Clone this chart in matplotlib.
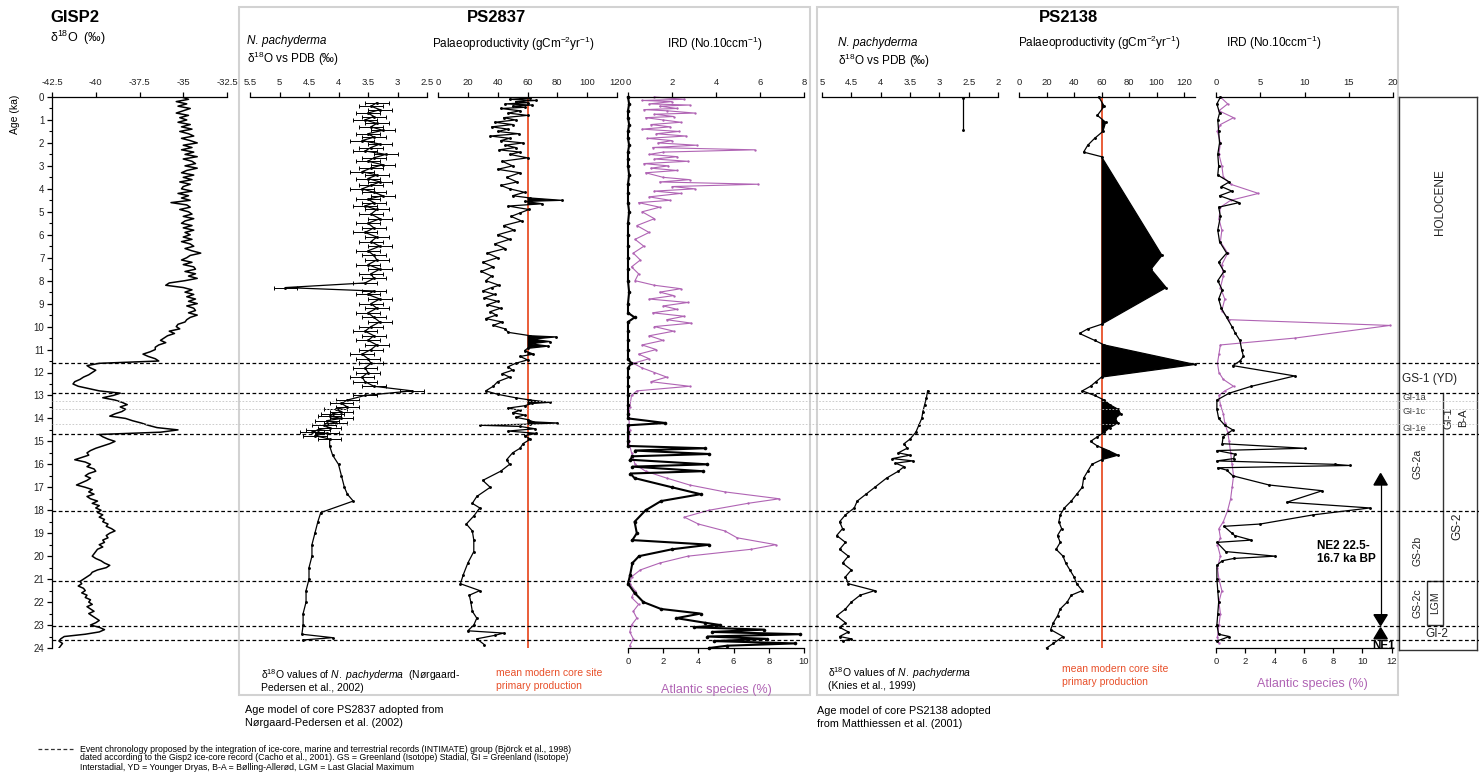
import matplotlib
matplotlib.use("Agg")
import matplotlib.pyplot as plt
from matplotlib.patches import Rectangle, Polygon
from matplotlib.lines import Line2D

plt.rcParams['font.family'] = ['Liberation Sans', 'DejaVu Sans']
plt.rcParams['mathtext.fontset'] = 'custom'
plt.rcParams['mathtext.rm'] = 'Liberation Sans'
plt.rcParams['mathtext.it'] = 'Liberation Sans:italic'
plt.rcParams['mathtext.bf'] = 'Liberation Sans:bold'
plt.rcParams['axes.unicode_minus'] = False

# ---------------------------------------------------------------- data
gisp2_age = [
    0.0, 0.1, 0.2, 0.3, 0.4, 0.5, 0.6, 0.7, 0.8, 0.9,
    1.0, 1.1, 1.2, 1.3, 1.4, 1.5, 1.6, 1.7, 1.8, 1.9,
    2.0, 2.1, 2.2, 2.3, 2.4, 2.5, 2.6, 2.7, 2.8, 2.9,
    3.0, 3.1, 3.2, 3.3, 3.4, 3.5, 3.6, 3.7, 3.8, 3.9,
    4.0, 4.1, 4.2, 4.3, 4.4, 4.5, 4.6, 4.7, 4.8, 4.9,
    5.0, 5.1, 5.2, 5.3, 5.4, 5.5, 5.6, 5.7, 5.8, 5.9,
    6.0, 6.1, 6.2, 6.3, 6.4, 6.5, 6.6, 6.7, 6.8, 6.9,
    7.0, 7.1, 7.2, 7.3, 7.4, 7.5, 7.6, 7.7, 7.8, 7.9,
    8.0, 8.1, 8.2, 8.3, 8.4, 8.5, 8.6, 8.7, 8.8, 8.9,
    9.0, 9.1, 9.2, 9.3, 9.4, 9.5, 9.6, 9.7, 9.8, 9.9,
    10.0, 10.1, 10.2, 10.3, 10.4, 10.5, 10.6, 10.7, 10.8, 10.9,
    11.0, 11.1, 11.2, 11.3, 11.4, 11.5, 11.6, 11.7, 11.8, 11.9,
    12.0, 12.1, 12.2, 12.3, 12.4, 12.5, 12.6, 12.7, 12.8, 12.9,
    13.0, 13.1, 13.2, 13.3, 13.4, 13.5, 13.6, 13.7, 13.8, 13.9,
    14.0, 14.1, 14.2, 14.3, 14.4, 14.5, 14.6, 14.7, 14.8, 14.9,
    15.0, 15.1, 15.2, 15.3, 15.4, 15.5, 15.6, 15.7, 15.8, 15.9,
    16.0, 16.1, 16.2, 16.3, 16.4, 16.5, 16.6, 16.7, 16.8, 16.9,
    17.0, 17.1, 17.2, 17.3, 17.4, 17.5, 17.6, 17.7, 17.8, 17.9,
    18.0, 18.1, 18.2, 18.3, 18.4, 18.5, 18.6, 18.7, 18.8, 18.9,
    19.0, 19.1, 19.2, 19.3, 19.4, 19.5, 19.6, 19.7, 19.8, 19.9,
    20.0, 20.1, 20.2, 20.3, 20.4, 20.5, 20.6, 20.7, 20.8, 20.9,
    21.0, 21.1, 21.2, 21.3, 21.4, 21.5, 21.6, 21.7, 21.8, 21.9,
    22.0, 22.1, 22.2, 22.3, 22.4, 22.5, 22.6, 22.7, 22.8, 22.9,
    23.0, 23.1, 23.2, 23.3, 23.4, 23.5, 23.6, 23.7, 23.8, 23.9,
    24.0]
gisp2_d18o = [
    -35.1, -34.7, -35.4, -34.8, -35.3, -34.6, -35.0, -35.4, -34.7, -35.2,
    -34.8, -35.3, -34.6, -35.1, -34.5, -35.2, -34.7, -34.4, -35.1, -34.6,
    -34.2, -35.0, -34.5, -35.1, -34.4, -34.9, -34.2, -35.0, -34.5, -34.3,
    -34.9, -34.2, -34.8, -35.1, -34.4, -35.0, -34.5, -35.2, -34.6, -35.0,
    -35.1, -34.5, -35.3, -34.7, -35.1, -34.6, -35.7, -34.8, -34.6, -35.2,
    -34.7, -34.5, -35.0, -34.4, -34.9, -35.1, -34.5, -35.0, -34.4, -34.9,
    -34.6, -35.0, -34.5, -35.1, -34.6, -34.4, -34.9, -34.5, -34.0, -34.6,
    -34.8, -35.1, -34.5, -35.0, -34.4, -34.3, -34.9, -34.3, -34.7, -34.2,
    -34.9, -35.8, -36.0, -35.0, -34.5, -34.9, -34.4, -34.8, -34.3, -34.7,
    -34.2, -34.8, -34.4, -34.3, -34.7, -34.2, -34.6, -34.8, -34.9, -35.3,
    -35.4, -35.2, -35.8, -35.5, -35.9, -36.1, -36.3, -36.0, -36.4, -36.6,
    -36.6, -36.9, -37.3, -37.0, -36.6, -36.4, -39.8, -40.5, -40.3, -40.0,
    -40.2, -40.4, -40.7, -40.9, -41.2, -41.3, -41.0, -40.4, -39.8, -38.6,
    -39.0, -39.6, -38.9, -38.5, -38.2, -38.6, -38.3, -38.5, -38.9, -39.2,
    -38.3, -37.9, -37.4, -37.0, -36.5, -35.3, -36.3, -39.8, -39.6, -39.3,
    -38.9, -39.2, -39.6, -40.0, -40.3, -40.5, -40.4, -40.8, -41.2, -40.6,
    -40.3, -40.5, -40.1, -40.0, -40.4, -40.6, -40.3, -40.5, -40.8, -41.1,
    -40.6, -40.2, -40.4, -40.1, -40.5, -40.3, -39.9, -40.2, -39.8, -40.0,
    -39.7, -39.9, -39.6, -39.8, -39.5, -39.6, -39.3, -39.4, -39.1, -38.9,
    -39.2, -39.4, -39.3, -39.6, -39.5, -39.8, -39.6, -39.9, -40.0, -40.1,
    -40.2, -40.0, -39.7, -39.5, -39.2, -39.4, -39.9, -40.2, -40.3, -40.5,
    -40.7, -40.9, -40.8, -41.0, -40.7, -40.6, -40.8, -40.5, -40.6, -40.3,
    -40.4, -40.2, -40.5, -40.3, -40.1, -40.4, -40.2, -40.0, -39.8, -40.0,
    -40.3, -39.8, -39.5, -39.8, -40.6, -41.8, -42.0, -42.1, -41.9, -42.0,
    -42.1]

# PS2837 N. pachyderma d18O (points with analytical error bars, then glacial part)
ps2837_d18o_age = [
    0.25, 0.4, 0.55, 0.7, 0.85, 1.0, 1.15, 1.3, 1.45, 1.6,
    1.75, 1.9, 2.05, 2.2, 2.35, 2.5, 2.65, 2.8, 2.95, 3.1,
    3.25, 3.4, 3.55, 3.7, 3.85, 4.0, 4.15, 4.3, 4.45, 4.6,
    4.75, 4.9, 5.1, 5.3, 5.5, 5.7, 5.9, 6.1, 6.3, 6.5,
    6.7, 6.9, 7.1, 7.3, 7.5, 7.7, 7.9, 8.1, 8.3, 8.45,
    8.6, 8.8, 9.0, 9.2, 9.4, 9.6, 9.8, 10.0, 10.2, 10.4,
    10.6, 10.8, 11.0, 11.2, 11.4, 11.6, 11.8, 12.0, 12.2, 12.4,
    12.6, 12.8, 13.0, 13.2, 13.35, 13.5, 13.6, 13.7, 13.8, 13.9,
    14.0, 14.1, 14.2, 14.3, 14.4, 14.5, 14.6, 14.65, 14.75, 14.9]
ps2837_d18o = [
    3.35, 3.45, 3.30, 3.50, 3.40, 3.55, 3.35, 3.45, 3.25, 3.50,
    3.40, 3.60, 3.30, 3.45, 3.55, 3.20, 3.40, 3.50, 3.25, 3.45,
    3.60, 3.35, 3.50, 3.30, 3.45, 3.60, 3.40, 3.25, 3.50, 3.40,
    3.55, 3.35, 3.45, 3.30, 3.50, 3.40, 3.55, 3.35, 3.45, 3.30,
    3.50, 3.40, 3.35, 3.50, 3.30, 3.45, 3.40, 3.55, 4.90, 3.40,
    3.50, 3.30, 3.45, 3.35, 3.50, 3.40, 3.30, 3.45, 3.55, 3.40,
    3.50, 3.35, 3.45, 3.60, 3.50, 3.45, 3.55, 3.50, 3.60, 3.55,
    3.40, 2.75, 3.55, 3.85, 3.95, 3.85, 4.05, 3.95, 4.10, 4.15,
    3.95, 4.20, 4.05, 4.25, 4.15, 4.35, 4.45, 4.20, 4.40, 4.15]
ps2837_d18o_err = 0.2
ps2837_d18o_glacial_age = [15.2, 15.6, 16.0, 16.5, 17.0, 17.3, 17.6, 18.1, 18.5, 19.0,
                           19.5, 20.0, 20.5, 21.0, 21.5, 22.0, 22.5, 23.0, 23.4, 23.55, 23.65]
ps2837_d18o_glacial = [4.15, 4.10, 4.00, 3.95, 3.90, 3.85, 3.75, 4.30, 4.35, 4.40,
                       4.45, 4.45, 4.50, 4.50, 4.55, 4.55, 4.60, 4.60, 4.62, 4.10, 4.60]

# PS2837 palaeoproductivity (gC m-2 yr-1)
ps2837_prod_age = [
    0.0, 0.05, 0.1, 0.15, 0.2, 0.25, 0.3, 0.35, 0.4, 0.45,
    0.5, 0.6, 0.7, 0.8, 0.9, 1.0, 1.1, 1.2, 1.3, 1.4,
    1.5, 1.6, 1.7, 1.8, 1.9, 2.0, 2.1, 2.2, 2.3, 2.4,
    2.5, 2.65, 2.8, 3.0, 3.15, 3.3, 3.5, 3.7, 3.85, 4.0,
    4.15, 4.3, 4.4, 4.5, 4.55, 4.65, 4.75, 4.9, 5.05, 5.2,
    5.4, 5.6, 5.8, 6.0, 6.2, 6.4, 6.6, 6.8, 7.0, 7.2,
    7.4, 7.6, 7.8, 8.0, 8.2, 8.3, 8.45, 8.6, 8.75, 8.9,
    9.05, 9.2, 9.35, 9.5, 9.65, 9.8, 9.95, 10.1, 10.25, 10.4,
    10.45, 10.55, 10.65, 10.75, 10.85, 10.95, 11.05, 11.2, 11.3, 11.45,
    11.6, 11.75, 11.9, 12.05, 12.2, 12.4, 12.6, 12.8, 12.95, 13.1,
    13.2, 13.3, 13.35, 13.45, 13.55, 13.65, 13.75, 13.85, 13.95, 14.05,
    14.15, 14.2, 14.25, 14.3, 14.35, 14.45, 14.55, 14.65, 14.75, 14.9,
    15.1, 15.3, 15.5, 15.8, 16.0, 16.3, 16.7, 17.0, 17.4, 17.7,
    17.9, 18.25, 18.6, 18.9, 19.3, 19.8, 20.3, 20.8, 21.2, 21.5,
    21.7, 22.0, 22.4, 22.7, 23.0, 23.25, 23.35, 23.45, 23.6, 23.85]
ps2837_prod = [
    55, 62, 48, 66, 52, 60, 45, 63, 50, 58,
    42, 55, 47, 60, 44, 52, 38, 50, 36, 47,
    40, 54, 35, 48, 42, 57, 45, 52, 41, 55,
    48, 60, 43, 50, 40, 55, 46, 53, 42, 48,
    58, 50, 62, 83, 58, 70, 47, 61, 55, 49,
    56, 44, 51, 40, 48, 38, 45, 33, 40, 30,
    37, 29, 36, 32, 41, 36, 30, 38, 31, 40,
    33, 42, 35, 39, 32, 43, 37, 45, 47, 62,
    79, 63, 75, 62, 74, 60, 58, 64, 55, 60,
    52, 47, 50, 43, 48, 40, 37, 32, 40, 52,
    62, 75, 63, 58, 47, 55, 50, 58, 52, 60,
    64, 80, 62, 28, 55, 65, 47, 66, 58, 62,
    57, 55, 50, 46, 48, 42, 30, 35, 26, 23,
    28, 24, 19, 23, 24, 24, 20, 17, 15, 28,
    21, 22, 23, 26, 24, 20, 44, 38, 26, 31]

# PS2837 IRD (No. 10 ccm-1) and Atlantic species (%)
ps2837_ird_age = [
    0.0, 0.3, 0.6, 0.9, 1.2, 1.5, 1.8, 2.1, 2.4, 2.7,
    3.0, 3.4, 3.8, 4.2, 4.6, 5.0, 5.5, 6.0, 6.5, 7.0,
    7.5, 8.0, 8.5, 9.0, 9.4, 9.6, 9.8, 10.2, 10.6, 11.0,
    11.4, 11.6, 11.8, 12.2, 12.6, 13.0, 13.4, 13.8, 14.0, 14.2,
    14.3, 14.6, 15.0, 15.2, 15.3, 15.4, 15.55, 15.65, 15.8, 16.0,
    16.1, 16.3, 16.4, 16.6, 17.0, 17.3, 17.6, 18.0, 18.5, 19.0,
    19.3, 19.5, 19.7, 20.0, 20.3, 20.8, 21.2, 21.6, 22.0, 22.3,
    22.5, 22.7, 22.9, 23.0, 23.1, 23.2, 23.3, 23.4, 23.5, 23.6,
    23.7, 23.8, 23.9, 24.0]
ps2837_ird = [
    0, 0.05, 0, 0, 0.05, 0, 0, 0.05, 0, 0,
    0, 0.05, 0, 0, 0, 0.05, 0, 0, 0, 0,
    0, 0, 0.05, 0, 0, 0.3, 0, 0, 0, 0,
    0, 0.15, 0, 0, 0, 0, 0, 0, 0, 1.7,
    0, 0, 0, 0, 3.5, 0.3, 3.7, 0.2, 0.1, 3.6,
    0.2, 3.4, 0.1, 0.3, 2.0, 3.3, 1.5, 0.8, 0.3, 0.4,
    0.2, 3.7, 2.0, 0.5, 0.2, 0.1, 0, 0.3, 0.7, 1.5,
    3.3, 2.2, 3.5, 4.2, 3.0, 6.2, 3.8, 7.8, 3.6, 6.3,
    3.9, 7.6, 4.5, 3.7]
ps2837_atl_age = [
    0.0, 0.1, 0.15, 0.2, 0.3, 0.35, 0.4, 0.5, 0.55, 0.6,
    0.7, 0.75, 0.85, 0.9, 1.0, 1.1, 1.2, 1.3, 1.4, 1.5,
    1.6, 1.7, 1.8, 1.9, 2.0, 2.1, 2.2, 2.3, 2.4, 2.5,
    2.6, 2.7, 2.8, 2.9, 3.0, 3.1, 3.2, 3.3, 3.5, 3.6,
    3.7, 3.8, 3.9, 4.0, 4.1, 4.2, 4.35, 4.5, 4.6, 4.8,
    5.0, 5.3, 5.6, 5.9, 6.2, 6.5, 6.8, 7.1, 7.4, 7.7,
    8.0, 8.2, 8.35, 8.5, 8.65, 8.8, 8.95, 9.1, 9.25, 9.4,
    9.55, 9.7, 9.85, 10.0, 10.2, 10.4, 10.6, 10.8, 11.0, 11.2,
    11.4, 11.6, 11.8, 12.0, 12.2, 12.4, 12.6, 12.8, 13.0, 13.5,
    14.0, 14.5, 15.0, 15.5, 16.0, 16.3, 16.6, 16.9, 17.2, 17.5,
    17.7, 18.0, 18.3, 18.6, 18.9, 19.2, 19.5, 19.7, 20.0, 20.3,
    20.6, 20.9, 21.2, 21.5, 21.8, 22.1, 22.4, 22.7, 23.0, 23.3,
    23.6, 23.9]
ps2837_atl = [
    1.5, 3.2, 0.8, 2.5, 1.2, 3.5, 1.8, 2.8, 0.9, 2.2,
    3.8, 1.5, 2.6, 1.0, 2.0, 3.0, 1.3, 2.4, 0.8, 2.9,
    1.6, 3.3, 1.1, 2.5, 1.7, 3.9, 1.4, 7.2, 2.0, 1.2,
    2.8, 1.5, 3.4, 0.9, 2.3, 1.3, 2.8, 1.0, 2.0, 3.5,
    1.8, 7.4, 2.5, 3.8, 1.5, 3.0, 1.2, 2.4, 0.6, 1.8,
    0.8, 1.5, 0.5, 1.2, 0.4, 0.9, 0.3, 0.7, 0.2, 0.6,
    0.4, 1.5, 3.0, 1.8, 2.6, 1.2, 3.4, 2.0, 2.8, 1.4,
    3.2, 2.2, 3.6, 1.5, 2.6, 1.2, 2.0, 0.8, 1.6, 0.6,
    1.2, 0.3, 0.8, 1.5, 2.2, 1.3, 3.5, 0.5, 0.2, 0.1,
    0.05, 0.1, 0.05, 0.2, 0.4, 1.0, 2.2, 3.5, 5.5, 8.6,
    6.8, 4.6, 3.2, 4.0, 5.5, 6.2, 8.4, 7.0, 3.4, 1.8,
    0.7, 0.2, 0.1, 0.4, 0.2, 0.6, 0.3, 0.5, 0.2, 0.1,
    0.3, 0.1]

# PS2138 N. pachyderma d18O
ps2138_d18o_top_age = [0.05, 1.45]
ps2138_d18o_top = [2.6, 2.6]
ps2138_d18o_age = [
    12.8, 13.1, 13.4, 13.7, 14.0, 14.3, 14.6, 14.9, 15.1, 15.3,
    15.5, 15.6, 15.75, 15.85, 15.95, 16.1, 16.3, 16.6, 17.0, 17.3,
    17.6, 17.9, 18.2, 18.5, 18.8, 19.1, 19.4, 19.7, 20.0, 20.3,
    20.6, 20.9, 21.2, 21.5, 21.7, 22.0, 22.3, 22.6, 22.9, 23.1,
    23.3, 23.5, 23.6, 23.7]
ps2138_d18o = [
    3.20, 3.22, 3.25, 3.28, 3.30, 3.35, 3.40, 3.50, 3.60, 3.55,
    3.70, 3.50, 3.80, 3.45, 3.75, 3.60, 3.70, 3.90, 4.10, 4.25,
    4.40, 4.45, 4.60, 4.70, 4.65, 4.75, 4.60, 4.70, 4.55, 4.65,
    4.50, 4.60, 4.55, 4.10, 4.35, 4.50, 4.60, 4.75, 4.60, 4.70,
    4.55, 4.70, 4.50, 4.65]

# PS2138 palaeoproductivity
ps2138_prod_age = [
    0.0, 0.4, 0.8, 1.1, 1.5, 1.8, 2.1, 2.4, 2.6, 6.9,
    7.5, 8.3, 9.9, 10.1, 10.3, 10.6, 10.8, 11.65, 12.2, 12.4,
    12.6, 12.8, 13.0, 13.2, 13.4, 13.6, 13.8, 14.0, 14.2, 14.4,
    14.6, 14.8, 15.0, 15.2, 15.4, 15.6, 15.8, 16.0, 16.3, 16.6,
    17.0, 17.3, 17.6, 17.9, 18.2, 18.5, 18.8, 19.1, 19.4, 19.7,
    20.0, 20.3, 20.6, 20.9, 21.2, 21.5, 21.7, 22.0, 22.3, 22.6,
    22.9, 23.2, 23.5, 23.8, 24.0]
ps2138_prod = [
    58, 62, 57, 63, 61, 55, 50, 47, 60, 104,
    96, 107, 60, 50, 44, 55, 62, 128, 60, 56,
    52, 46, 55, 62, 66, 72, 74, 70, 72, 66,
    62, 57, 52, 57, 65, 72, 60, 53, 50, 47,
    46, 42, 38, 33, 30, 29, 31, 28, 30, 27,
    32, 34, 37, 40, 42, 46, 38, 35, 30, 28,
    25, 23, 32, 25, 20]

# PS2138 IRD and Atlantic species
ps2138_ird_age = [
    0.0, 0.3, 0.7, 1.0, 1.5, 2.0, 2.5, 3.0, 3.4, 3.7,
    3.9, 4.1, 4.3, 4.6, 4.8, 5.2, 5.8, 6.3, 6.8, 7.2,
    7.6, 8.0, 8.4, 8.8, 9.2, 9.6, 10.0, 10.3, 10.6, 11.0,
    11.3, 11.5, 11.7, 12.15, 12.6, 12.9, 13.2, 13.6, 14.0, 14.3,
    14.5, 14.8, 15.1, 15.3, 15.4, 15.55, 15.75, 15.85, 16.0, 16.05,
    16.15, 16.25, 16.5, 16.9, 17.15, 17.65, 17.9, 18.2, 18.6, 18.7,
    19.0, 19.1, 19.3, 19.4, 19.8, 20.0, 20.1, 20.2, 20.4, 21.0,
    21.5, 22.0, 22.5, 23.0, 23.4, 23.5, 23.7]
ps2138_ird = [
    0.5, 0.1, 0.4, 0.2, 0.3, 0.4, 0.2, 0.3, 0.2, 1.5,
    0.6, 1.8, 0.4, 2.6, 0.3, 0.5, 0.2, 0.4, 1.2, 0.3,
    0.9, 0.2, 0.7, 0.3, 0.6, 1.2, 1.8, 2.2, 2.7, 2.9,
    3.1, 2.7, 1.9, 8.9, 4.0, 1.5, 0.1, 0.1, 0.3, 1.0,
    1.9, 0.8, 0.7, 10.0, 0.1, 2.1, 2.0, 0.1, 13.4, 15.1,
    0.2, 1.2, 1.9, 6.0, 12.0, 8.0, 17.4, 11.0, 5.0, 0.9,
    1.8, 2.1, 4.0, 0.1, 1.1, 6.7, 2.0, 0.7, 0.1, 0.1,
    0.2, 0.3, 0.2, 0.1, 0.3, 1.5, 0.1]
ps2138_atl_age = [
    0.0, 0.3, 0.6, 0.9, 1.2, 1.5, 2.0, 2.5, 3.0, 3.5,
    3.8, 4.2, 4.5, 4.8, 5.3, 5.8, 6.3, 6.8, 7.3, 7.8,
    8.3, 8.8, 9.3, 9.7, 9.95, 10.5, 10.8, 11.2, 11.6, 12.0,
    12.3, 12.6, 12.8, 13.0, 13.4, 13.8, 14.2, 14.6, 15.0, 15.5,
    16.0, 16.5, 17.0, 17.5, 18.0, 18.5, 18.8, 19.2, 19.5, 20.0,
    20.5, 21.0, 21.5, 22.0, 22.5, 23.0, 23.5, 23.8]
ps2138_atl = [
    0.3, 0.8, 0.2, 1.2, 0.3, 0.1, 0.3, 0.2, 0.4, 0.5,
    1.0, 2.9, 1.0, 0.3, 0.2, 0.4, 0.3, 0.8, 0.4, 0.5,
    0.3, 0.6, 0.4, 0.9, 11.9, 5.4, 0.3, 0.2, 0.1, 0.2,
    0.5, 1.2, 0.6, 0.2, 0.3, 0.5, 0.6, 0.8, 0.9, 1.0,
    1.1, 1.2, 1.1, 1.0, 0.8, 0.5, 0.2, 0.3, 0.1, 0.3,
    0.1, 0.2, 0.4, 0.2, 0.3, 0.2, 0.1, 0.2]

modern_production = 60
event_ages = [11.6, 12.9, 14.7, 18.05, 21.1, 23.05, 23.65]
gi1_sub_ages = [13.25, 13.6, 14.25]

age_ticks = list(range(0, 25))
gisp2_ticks = [-42.5, -40, -37.5, -35, -32.5]
gisp2_labels = ['-42.5', '-40', '-37.5', '-35', '-32.5']
d18o_2837_ticks = [5.5, 5, 4.5, 4, 3.5, 3, 2.5]
d18o_2837_labels = ['5.5', '5', '4.5', '4', '3.5', '3', '2.5']
d18o_2138_ticks = [5, 4.5, 4, 3.5, 3, 2.5, 2]
d18o_2138_labels = ['5', '4.5', '4', '3.5', '3', '2.5', '2']
prod_ticks = [0, 20, 40, 60, 80, 100, 120]
ird_2837_ticks = [0, 2, 4, 6, 8]
atl_2837_ticks = [0, 2, 4, 6, 8, 10]
ird_2138_ticks = [0, 5, 10, 15, 20]
atl_2138_ticks = [0, 2, 4, 6, 8, 10, 12]

# ---------------------------------------------------------------- layout
W, H = 1479, 784
TOP, BOT = 97, 648
fig = plt.figure(figsize=(W / 100, H / 100), dpi=100)
fig.patch.set_facecolor('white')

PURPLE = '#b064b4'
RED = '#e8502a'
TICKC = '#222222'


def axes_px(x0, x1, y0=TOP, y1=BOT):
    ax = fig.add_axes([x0 / W, 1 - y1 / H, (x1 - x0) / W, (y1 - y0) / H])
    ax.patch.set_alpha(0)
    return ax


def top_scale(ax, lim, ticks, labels):
    ax.set_xlim(*lim)
    ax.set_ylim(24, 0)
    for s in ('left', 'right', 'bottom'):
        ax.spines[s].set_visible(False)
    ax.spines['top'].set_linewidth(0.9)
    ax.xaxis.tick_top()
    ax.set_xticks(ticks)
    ax.set_xticklabels(labels)
    ax.tick_params(axis='x', direction='out', length=3.5, width=0.9,
                   labelsize=6.8, pad=4, labelcolor=TICKC)
    ax.set_yticks([])


def bottom_scale(ax, lim, ticks):
    tw = ax.twiny()
    # twiny moves the parent's ticks to the bottom; put them back on top
    ax.tick_params(axis='x', top=True, labeltop=True, bottom=False, labelbottom=False)
    tw.set_xlim(*lim)
    tw.set_ylim(24, 0)
    tw.patch.set_alpha(0)
    for s in ('left', 'right', 'top'):
        tw.spines[s].set_visible(False)
    tw.spines['bottom'].set_visible(True)
    tw.spines['bottom'].set_linewidth(0.9)
    tw.xaxis.set_ticks_position('bottom')
    tw.xaxis.set_label_position('bottom')
    tw.tick_params(axis='x', top=False, labeltop=False, bottom=True, labelbottom=True)
    tw.set_xticks(ticks)
    tw.set_xticklabels([str(t) for t in ticks])
    tw.tick_params(axis='x', direction='out', length=3.5, width=0.9,
                   labelsize=6.8, pad=3, labelcolor=TICKC)
    return tw


def ftext(x, y, s, **kw):
    kw.setdefault('va', 'center')
    kw.setdefault('ha', 'left')
    fig.text(x / W, 1 - y / H, s, **kw)


# core boxes
for (x0, x1) in [(239, 810), (817, 1398)]:
    fig.add_artist(Rectangle((x0 / W, 1 - 695 / H), (x1 - x0) / W, (695 - 7) / H,
                             transform=fig.transFigure, fill=False,
                             ec='#d2d2d2', lw=1.5, zorder=0))

line_kw = dict(color='k', lw=0.9, marker='o', ms=2.1, mew=0)

# GISP2
ax0 = axes_px(52, 227)
top_scale(ax0, (-42.5, -32.5), gisp2_ticks, gisp2_labels)
ax0.spines['left'].set_visible(True)
ax0.spines['left'].set_linewidth(0.9)
ax0.set_yticks(age_ticks)
ax0.set_yticks([a + 0.5 for a in age_ticks[:-1]], minor=True)
ax0.tick_params(axis='y', direction='out', length=3.5, width=0.9, labelsize=7,
                pad=2, labelcolor=TICKC)
ax0.tick_params(axis='y', which='minor', direction='out', length=2.5, width=0.8)
ax0.plot(gisp2_d18o, gisp2_age, color='k', lw=1.1)

# PS2837 d18O
ax1 = axes_px(250, 427)
top_scale(ax1, (5.5, 2.5), d18o_2837_ticks, d18o_2837_labels)
ax1.plot(ps2837_d18o + ps2837_d18o_glacial, ps2837_d18o_age + ps2837_d18o_glacial_age,
         **line_kw)
ax1.errorbar(ps2837_d18o, ps2837_d18o_age, xerr=ps2837_d18o_err, fmt='none',
             ecolor='k', elinewidth=0.7, capsize=1.5, capthick=0.7)

# PS2837 productivity
ax2 = axes_px(438, 617)
top_scale(ax2, (0, 120), prod_ticks, [str(t) for t in prod_ticks])
ax2.axvline(modern_production, color=RED, lw=1.3, zorder=1)
ax2.fill_betweenx(ps2837_prod_age, modern_production, ps2837_prod,
                  where=[v >= modern_production for v in ps2837_prod],
                  interpolate=True, color='k', lw=0, zorder=2)
ax2.plot(ps2837_prod, ps2837_prod_age, zorder=3, **line_kw)

# PS2837 IRD + Atlantic species
ax3 = axes_px(628, 804)
top_scale(ax3, (0, 8), ird_2837_ticks, [str(t) for t in ird_2837_ticks])
tw3 = bottom_scale(ax3, (0, 10), atl_2837_ticks)
tw3.plot(ps2837_atl, ps2837_atl_age, color=PURPLE, lw=0.8, marker='o', ms=1.7,
         mew=0, clip_on=False)
ax3.plot(ps2837_ird, ps2837_ird_age, color='k', lw=1.5, marker='o', ms=2.6, mew=0,
         clip_on=False, zorder=5, solid_joinstyle='miter')
ax3.set_zorder(tw3.get_zorder() + 1)

# PS2138 d18O
ax4 = axes_px(822, 998)
top_scale(ax4, (5, 2), d18o_2138_ticks, d18o_2138_labels)
ax4.plot(ps2138_d18o_top, ps2138_d18o_top_age, **line_kw)
ax4.plot(ps2138_d18o, ps2138_d18o_age, **line_kw)

# PS2138 productivity
ax5 = axes_px(1019, 1195)
top_scale(ax5, (0, 128), prod_ticks, [str(t) for t in prod_ticks])
ax5.axvline(modern_production, color=RED, lw=1.3, zorder=1)
ax5.fill_betweenx(ps2138_prod_age, modern_production, ps2138_prod,
                  where=[v >= modern_production for v in ps2138_prod],
                  interpolate=True, color='k', lw=0, zorder=2)
ax5.plot(ps2138_prod, ps2138_prod_age, zorder=3, clip_on=False, **line_kw)

# PS2138 IRD + Atlantic species
ax6 = axes_px(1216, 1393)
top_scale(ax6, (0, 20), ird_2138_ticks, [str(t) for t in ird_2138_ticks])
tw6 = bottom_scale(ax6, (0, 12.1), atl_2138_ticks)
tw6.plot(ps2138_atl, ps2138_atl_age, color=PURPLE, lw=0.8, marker='o', ms=1.7,
         mew=0, clip_on=False)
ax6.plot(ps2138_ird, ps2138_ird_age, zorder=5, clip_on=False, **line_kw)
ax6.set_zorder(tw6.get_zorder() + 1)

# NE2 / NE1 arrows (IRD axis units)
ax_arrow_x, hw = 18.6, 0.75
ax6.plot([ax_arrow_x, ax_arrow_x], [16.9, 22.55], color='k', lw=0.9, clip_on=False)
for tri in ([(ax_arrow_x - hw, 16.9), (ax_arrow_x + hw, 16.9), (ax_arrow_x, 16.4)],
            [(ax_arrow_x - hw, 22.55), (ax_arrow_x + hw, 22.55), (ax_arrow_x, 23.02)],
            [(ax_arrow_x - hw, 23.6), (ax_arrow_x + hw, 23.6), (ax_arrow_x, 23.12)]):
    ax6.add_patch(Polygon(tri, closed=True, color='k', clip_on=False, zorder=6))
ax6.text(11.4, 19.85, 'NE2 22.5-\n16.7 ka BP', fontsize=8.5, fontweight='bold',
         ha='left', va='center', linespacing=1.05, zorder=7,
         bbox=dict(fc='white', ec='none', pad=0.8))
ax6.text(18.9, 23.9, 'NE1', fontsize=8.5, fontweight='bold', ha='center',
         va='center', zorder=7)

# stratigraphic column
sb = axes_px(1399, 1477, TOP, 650)
sb.set_xlim(0, 1)
sb.set_ylim(24.1, 0)
sb.set_xticks([])
sb.set_yticks([])
for s in sb.spines.values():
    s.set_linewidth(1.0)
    s.set_color('#333333')
sb.plot([0.564, 0.564], [12.9, 21.1], color='#333333', lw=1.0)
sb.add_patch(Rectangle((0.36, 21.1), 0.204, 1.9, fill=False, ec='#333333', lw=1.0))
strat_kw = dict(color='#222222', va='center')
sb.text(0.53, 4.6, 'HOLOCENE', rotation=90, ha='center', fontsize=8.5, **strat_kw)
sb.text(0.04, 12.3, 'GS-1 (YD)', ha='left', fontsize=8.5, **strat_kw)
sb.text(0.05, 13.1, 'GI-1a', ha='left', fontsize=6.8, color='#444444', va='center')
sb.text(0.05, 13.7, 'GI-1c', ha='left', fontsize=6.8, color='#444444', va='center')
sb.text(0.05, 14.45, 'GI-1e', ha='left', fontsize=6.8, color='#444444', va='center')
sb.text(0.63, 14.0, 'GI-1', rotation=90, ha='center', fontsize=8, **strat_kw)
sb.text(0.82, 14.0, 'B-A', rotation=90, ha='center', fontsize=8, **strat_kw)
sb.text(0.24, 16.0, 'GS-2a', rotation=90, ha='center', fontsize=7.5, **strat_kw)
sb.text(0.24, 19.8, 'GS-2b', rotation=90, ha='center', fontsize=7.5, **strat_kw)
sb.text(0.24, 22.05, 'GS-2c', rotation=90, ha='center', fontsize=7.5, **strat_kw)
sb.text(0.46, 22.05, 'LGM', rotation=90, ha='center', fontsize=7.5, **strat_kw)
sb.text(0.75, 18.7, 'GS-2', rotation=90, ha='center', fontsize=8.5, **strat_kw)
sb.text(0.49, 23.4, 'GI-2', ha='center', fontsize=8.5, **strat_kw)

# event chronology lines across all panels
ov = axes_px(52, 1479, TOP, BOT)
ov.set_xlim(0, 1)
ov.set_ylim(24, 0)
ov.axis('off')
for a in gi1_sub_ages:
    ov.axhline(a, color='#c4c4c4', lw=0.6, ls=(0, (2, 2)))
for a in event_ages:
    ov.axhline(a, color='k', lw=0.9, ls=(0, (3, 2)))

# ---------------------------------------------------------------- text
ftext(50, 18, 'GISP2', fontsize=12, fontweight='bold')
ftext(50, 38, 'δ$^{18}$O  (‰)', fontsize=9)
ftext(15, 114, 'Age (ka)', fontsize=7.5, rotation=90, ha='center')

ftext(497, 18, 'PS2837', fontsize=12, fontweight='bold', ha='center')
ftext(247, 41, 'N. pachyderma', fontsize=8.5, style='italic')
ftext(247, 59, 'δ$^{18}$O vs PDB (‰)', fontsize=8.5)
ftext(432, 44, 'Palaeoproductivity (gCm$^{-2}$yr$^{-1}$)', fontsize=8.5)
ftext(667, 44, 'IRD (No.10ccm$^{-1}$)', fontsize=8.5)

ftext(1069, 18, 'PS2138', fontsize=12, fontweight='bold', ha='center')
ftext(838, 43, 'N. pachyderma', fontsize=8.5, style='italic')
ftext(838, 61, 'δ$^{18}$O vs PDB (‰)', fontsize=8.5)
ftext(1018, 43, 'Palaeoproductivity (gCm$^{-2}$yr$^{-1}$)', fontsize=8.5)
ftext(1226, 43, 'IRD (No.10ccm$^{-1}$)', fontsize=8.5)

ftext(261, 675, 'δ$^{18}$O values of $\\it{N.\\ pachyderma}$  (Nørgaard-', fontsize=7.5)
ftext(261, 688, 'Pedersen et al., 2002)', fontsize=7.5)
ftext(496, 673, 'mean modern core site', fontsize=7.5, color=RED)
ftext(496, 686, 'primary production', fontsize=7.5, color=RED)
ftext(716, 690, 'Atlantic species (%)', fontsize=9, color=PURPLE, ha='center')

ftext(828, 673, 'δ$^{18}$O values of $\\it{N.\\ pachyderma}$', fontsize=7.5)
ftext(828, 686, '(Knies et al., 1999)', fontsize=7.5)
ftext(1062, 669, 'mean modern core site', fontsize=7.5, color=RED)
ftext(1062, 682, 'primary production', fontsize=7.5, color=RED)
ftext(1312, 684, 'Atlantic species (%)', fontsize=9, color=PURPLE, ha='center')

ftext(245, 710, 'Age model of core PS2837 adopted from', fontsize=7.8)
ftext(245, 723, 'Nørgaard-Pedersen et al. (2002)', fontsize=7.8)
ftext(817, 711, 'Age model of core PS2138 adopted', fontsize=7.8)
ftext(817, 724, 'from Matthiessen et al. (2001)', fontsize=7.8)

fig.add_artist(Line2D([38 / W, 75 / W], [1 - 749 / H, 1 - 749 / H],
                      transform=fig.transFigure, color='#333333', lw=0.9,
                      ls=(0, (3, 2))))
ftext(80, 749, 'Event chronology proposed by the integration of ice-core, marine and '
      'terrestrial records (INTIMATE) group (Björck et al., 1998)', fontsize=6.3)
ftext(80, 758, 'dated according to the Gisp2 ice-core record (Cacho et al., 2001). '
      'GS = Greenland (Isotope) Stadial, GI = Greenland (Isotope)', fontsize=6.3)
ftext(80, 767, 'Interstadial, YD = Younger Dryas, B-A = Bølling-Allerød, '
      'LGM = Last Glacial Maximum', fontsize=6.3)

fig.savefig('out.png', dpi=100, facecolor='white')
